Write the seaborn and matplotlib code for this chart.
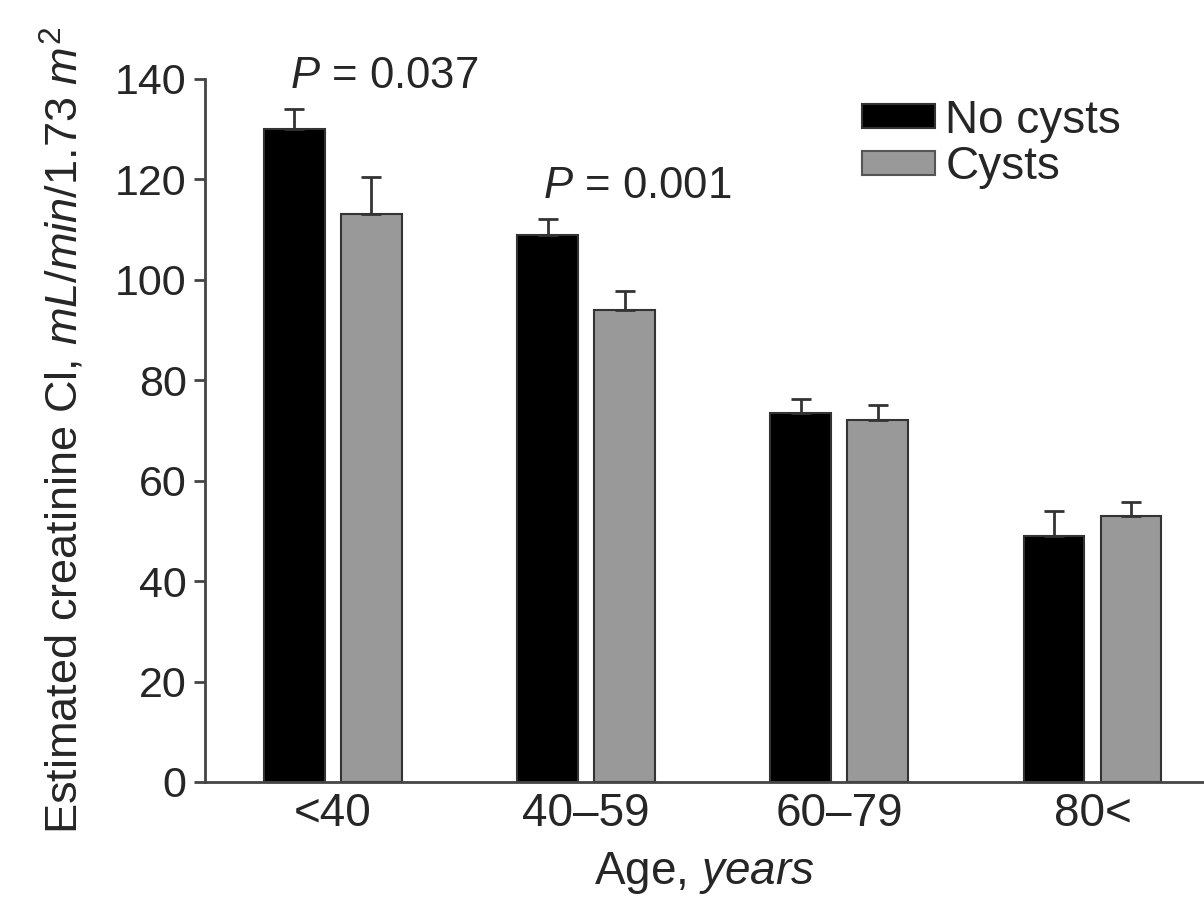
import matplotlib
matplotlib.use("Agg")
import matplotlib.pyplot as plt
import seaborn as sns
import pandas as pd
import numpy as np
from matplotlib.patches import Patch

ages = ["<40", "40\u201359", "60\u201379", "80<"]
groups = ["No cysts", "Cysts"]
no_cysts = [130, 109, 73.5, 49]
no_cysts_err = [4, 3, 2.7, 5]
cysts = [113, 94, 72, 53]
cysts_err = [7.5, 3.7, 3, 2.7]
p_labels = ["0.037", "0.001"]
p_y = [140.5, 118.5]
yticks = [0, 20, 40, 60, 80, 100, 120, 140]

sns.set_style("white")
plt.rcParams["font.family"] = ["Liberation Sans", "DejaVu Sans"]
plt.rcParams["mathtext.fontset"] = "custom"
plt.rcParams["mathtext.rm"] = "Liberation Sans"
plt.rcParams["mathtext.it"] = "Liberation Sans:italic"

df = pd.DataFrame({
    "age": ages * 2,
    "group": [groups[0]] * 4 + [groups[1]] * 4,
    "value": no_cysts + cysts,
    "err": no_cysts_err + cysts_err,
})

fig = plt.figure(figsize=(12.04, 8.98), dpi=100)
ax = fig.add_axes([0.170, 0.1292, 0.83, 0.783])

sns.barplot(data=df, x="age", y="value", hue="group", order=ages,
            hue_order=groups, palette=["#000000", "#999999"],
            width=0.608, gap=0.21, errorbar=None, ax=ax, legend=False,
            edgecolor="#333333", linewidth=1.5)

# error bars (upper only), placed at the bar centres
patches = [p for p in ax.patches if p.get_height() > 0]
patches = sorted(patches, key=lambda p: p.get_x())
vals, errs = [], []
for i in range(len(ages)):
    vals += [no_cysts[i], cysts[i]]
    errs += [no_cysts_err[i], cysts_err[i]]
xs = [p.get_x() + p.get_width() / 2 for p in patches]
ax.errorbar(xs, vals, yerr=[np.zeros(len(errs)), errs], fmt="none",
            ecolor="#333333", elinewidth=2, capsize=7, capthick=2, zorder=1)

ax.set_ylim(0, 140)
ax.set_xlim(-0.506, 3.44)
ax.set_yticks(yticks)
ax.tick_params(axis="y", which="both", left=True, length=8, width=2,
               color="#444444", labelsize=31, pad=5)
ax.tick_params(axis="x", bottom=False, labelsize=33, pad=4)
for s in ["top", "right"]:
    ax.spines[s].set_visible(False)
for s in ["left", "bottom"]:
    ax.spines[s].set_color("#444444")
    ax.spines[s].set_linewidth(2)

ax.set_xlabel(r"Age, $\mathit{years}$", fontsize=33, labelpad=10)
ax.set_ylabel(r"Estimated creatinine Cl, $\mathit{mL/min/1.73\ m^2}$",
              fontsize=32.5, labelpad=20)

for i, (pl, py) in enumerate(zip(p_labels, p_y)):
    ax.text(i - 0.17, py, r"$\mathit{P}$ = " + pl, fontsize=31.5,
            ha="left", va="center")

handles = [Patch(facecolor="#000000", edgecolor="#333333", linewidth=1.5),
           Patch(facecolor="#999999", edgecolor="#555555", linewidth=1.5)]
fig.legend(handles, groups, loc="upper left",
           bbox_to_anchor=(0.716, 0.89), frameon=False, fontsize=33,
           handlelength=1.6, handleheight=0.43, handletextpad=0.22,
           labelspacing=0.05, borderaxespad=0, borderpad=0)

fig.savefig("out.png", dpi=100)
